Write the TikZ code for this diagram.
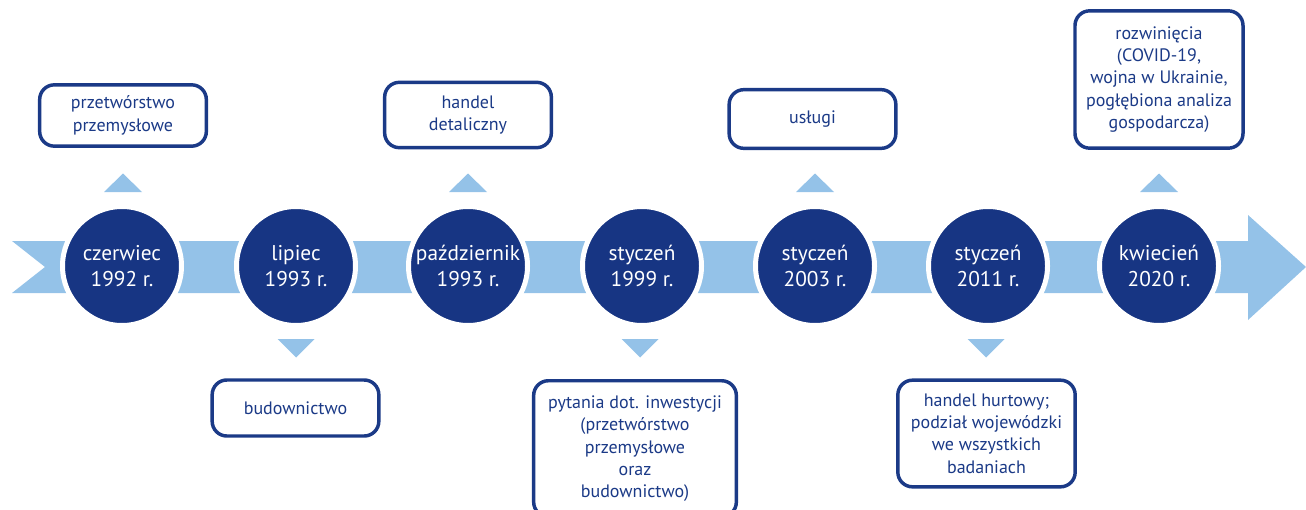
\documentclass[tikz,border=0pt]{standalone}
\usepackage{fontspec}
\setmainfont{PT Sans}
\definecolor{navy}{HTML}{173583}
\definecolor{lblue}{HTML}{94C2E8}
\definecolor{boxblue}{HTML}{1B3A87}
\tikzset{
  band/.style={fill=lblue},
  tri/.style={fill=lblue},
  datecirc/.style={circle, fill=navy, draw=white, line width=3.75pt, minimum size=89.25pt, inner sep=0pt,
    text=white, font=\fontsize{16}{19}\selectfont, align=center},
  infobox/.style={draw=boxblue, line width=2.6pt, rounded corners=11pt, fill=white, text=boxblue,
    font=\fontsize{13.5}{16.8}\selectfont, align=center, inner sep=2pt}
}
\begin{document}
\begin{tikzpicture}[x=0.75pt,y=-0.75pt]
\useasboundingbox (0,0) rectangle (1306,510);
% band arrow
\fill[band] (12,241) -- (1248,241) -- (1248,215) -- (1306,267) -- (1248,320) -- (1248,293) -- (12,293) -- (45,267) -- cycle;
% circles
\node[datecirc] (c1) at (122,266) {czerwiec\\1992 r.};
\node[datecirc] (c2) at (296,266) {lipiec\\1993 r.};
\node[datecirc] (c3) at (468,266) {październik\\1993 r.};
\node[datecirc] (c4) at (642,266) {styczeń\\1999 r.};
\node[datecirc] (c5) at (815,266) {styczeń\\2003 r.};
\node[datecirc] (c6) at (988,266) {styczeń\\2011 r.};
\node[datecirc] (c7) at (1159,266) {kwiecień\\2020 r.};
% triangles up
\foreach \x in {123,468,815,1159}{
  \fill[tri] (\x-19,192) -- (\x+19,192) -- (\x,173.5) -- cycle;
}
% triangles down
\foreach \x in {296,640,986}{
  \fill[tri] (\x-18.5,339) -- (\x+18.5,339) -- (\x,357.5) -- cycle;
}
% boxes
\node[infobox, minimum width=125pt, minimum height=46pt] (b1) at (123,115.5) {przetwórstwo\\przemysłowe};
\node[infobox, minimum width=125pt, minimum height=42pt] (b2) at (295.5,408) {budownictwo};
\node[infobox, minimum width=125pt, minimum height=49pt] (b3) at (468,115) {handel\\detaliczny};
\node[infobox, minimum width=152pt, minimum height=102pt, anchor=north] (b4) at (635,379) {pytania dot. inwestycji\\(przetwórstwo\\przemysłowe\\oraz\\budownictwo)};
\node[infobox, minimum width=125pt, minimum height=44pt] (b5) at (812.5,119) {usługi};
\node[infobox, minimum width=133pt, minimum height=80pt] (b6) at (986.5,433.5) {handel hurtowy;\\podział wojewódzki\\we wszystkich\\badaniach};
\node[infobox, minimum width=126pt, minimum height=103pt] (b7) at (1159,79.5) {rozwinięcia\\(COVID-19,\\wojna w Ukrainie,\\pogłębiona analiza\\gospodarcza)};
\end{tikzpicture}
\end{document}
